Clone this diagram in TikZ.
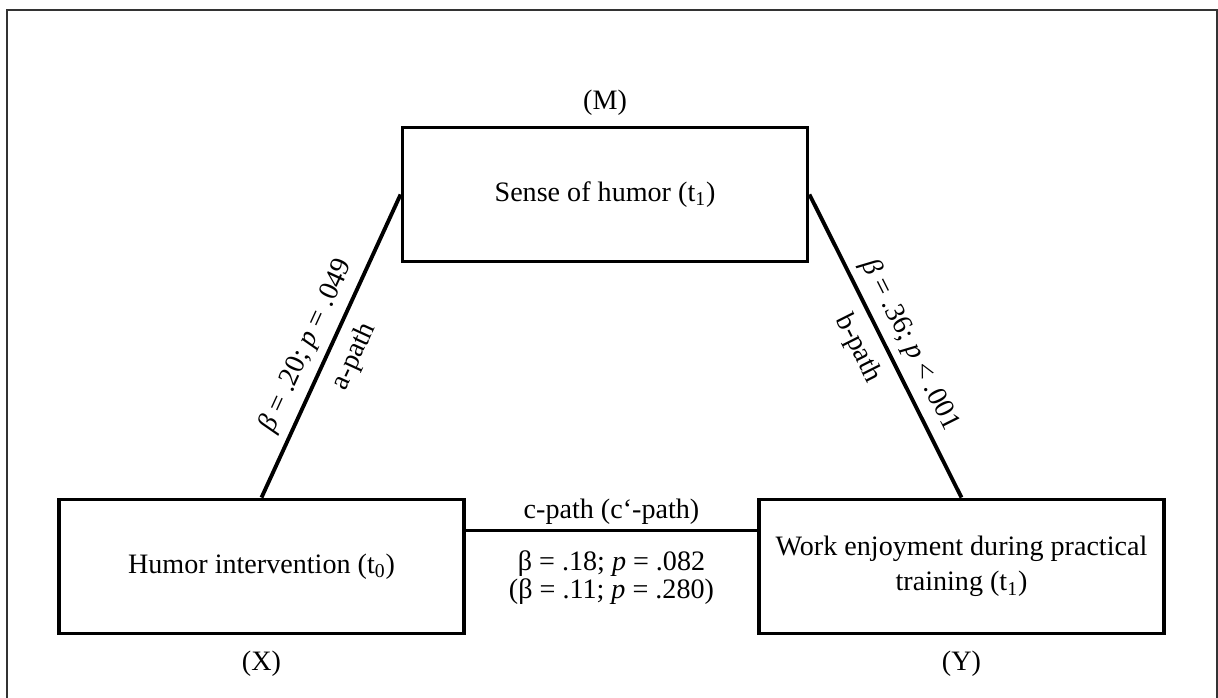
\documentclass[tikz,border=0pt]{standalone}
\usepackage{fontspec}
\setmainfont{Liberation Serif}
\usetikzlibrary{positioning}

\begin{document}
\begin{tikzpicture}[font=\fontsize{16}{20}\selectfont,
  var/.style={draw, line width=2.2pt, minimum width=8.1cm, minimum height=2.68cm, align=center},
  tag/.style={inner sep=0pt},
  link/.style={line width=2.2pt}]
\useasboundingbox (0,0) rectangle (24.36,13.94);
\draw [black!80, line width=0.8pt] (0.14,13.74) rectangle (24.34,-0.5);

\node [var] (M) at (12.10,10.05) {Sense of humor (t\textsubscript{1})};
\node [var] (X) at (5.23,2.61) {Humor intervention (t\textsubscript{0})};
\node [var] (Y) at (19.23,2.61) {Work enjoyment during practical\\training (t\textsubscript{1})};

\node [tag, above=0.2cm of M] (Mtag) {(M)};
\node [tag, below=0.3cm of X] (Xtag) {(X)};
\node [tag, below=0.3cm of Y] (Ytag) {(Y)};

\draw [link] (X.north) -- node [above=1pt, sloped, pos=.47] {\textit{β} = .20; \textit{p} = .049} node [below=3pt, sloped] {a-path} (M.west);
\draw [link] (M.east) -- node [above=1pt, sloped, pos=.53] {\textit{β} = .36; \textit{p} < .001} node [below=3pt, sloped, pos=.47] {b-path} (Y.north);
\draw [link] (X.10) -- node [above, inner sep=2.5pt] {c-path (c‘-path)}
  node [below=7pt, align=center, font=\fontsize{16}{16}\selectfont] {β = .18; \textit{p} = .082\\(β = .11; \textit{p} = .280)} (Y.170);
\end{tikzpicture}
\end{document}
